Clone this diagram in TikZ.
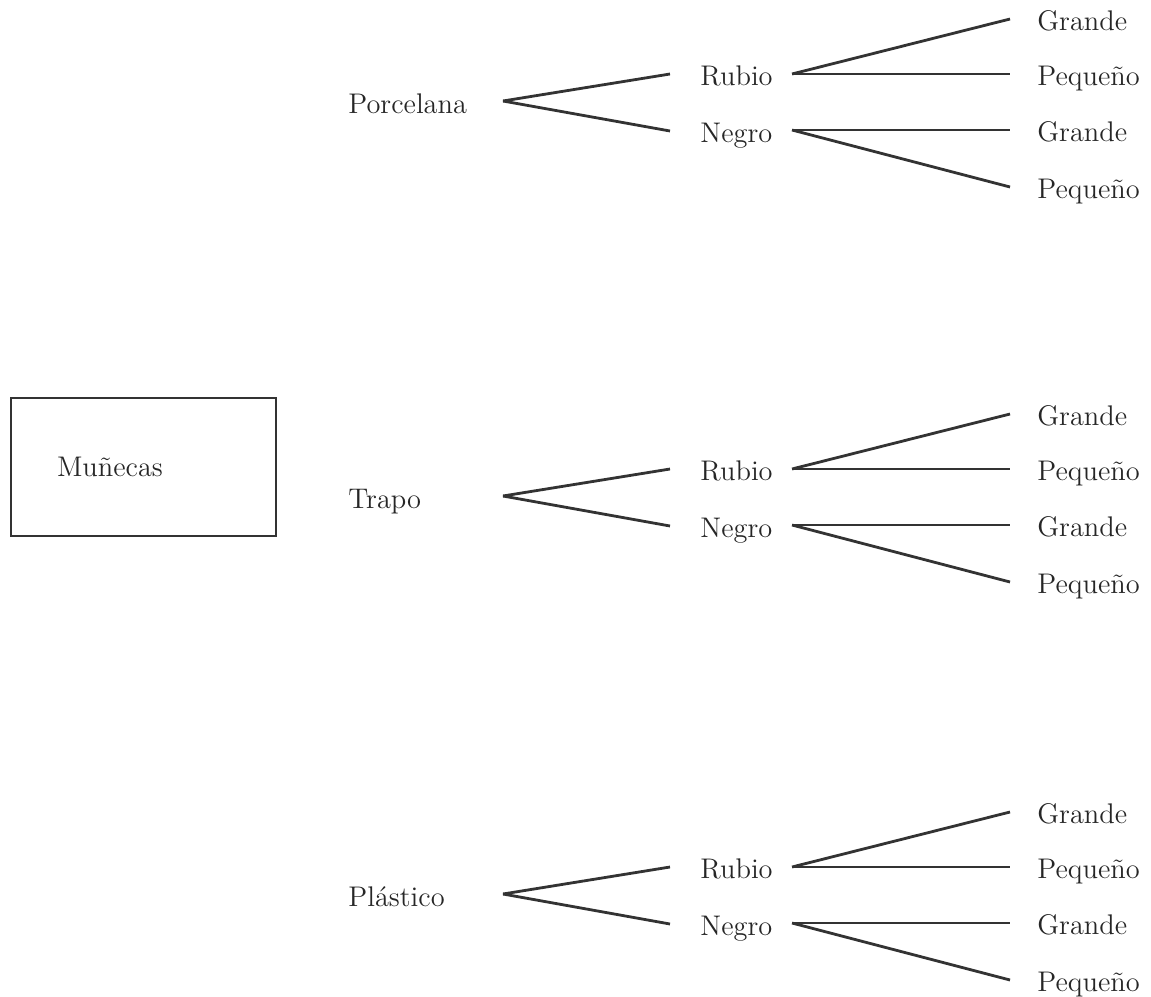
\documentclass[tikz,border=0pt]{standalone}
\usepackage{amssymb}
\usepackage{amsmath}
\usepackage{tikz}

\begin{document}
\begin{tikzpicture}[x=0.5pt, y=-0.5pt,
    txt/.style={anchor=base west, inner sep=0pt, text height=11pt, text depth=0pt,
        font=\fontsize{14.2}{17}\selectfont, text=black!85},
    branch/.style={draw=black!80, line width=1.4pt}]
    \useasboundingbox (0,0) rectangle (1151,996);
    % caja principal
    \node[draw=black!80, line width=1.3pt, minimum width=132.5pt, minimum height=69pt,
        text width=86.5pt, inner xsep=23pt, align=left,
        font=\fontsize{14.2}{17}\selectfont, text=black!85] (box) at (143.5,467) {Muñecas};
    % un arbol por material
    \foreach \mat/\d/\n in {Porcelana/0/p, Trapo/395/t, Plástico/793/l}{
        \node[txt] (\n-mat) at (348,113+\d) {\mat};
        \node[txt] (\n-rub) at (700,85+\d) {Rubio};
        \node[txt] (\n-neg) at (700,142+\d) {Negro};
        \node[txt] (\n-g1) at (1037,30+\d) {Grande};
        \node[txt] (\n-p1) at (1037,85+\d) {Pequeño};
        \node[txt] (\n-g2) at (1037,141+\d) {Grande};
        \node[txt] (\n-p2) at (1037,198+\d) {Pequeño};
        % puntos de ramificacion
        \coordinate (\n-v) at (503,101+\d);
        \coordinate (\n-rv) at (792,74+\d);
        \coordinate (\n-nv) at (792,130+\d);
        \draw[branch] (\n-v) -- ([xshift=-15pt]\n-rub.west);
        \draw[branch] (\n-v) -- ([xshift=-15pt]\n-neg.west);
        \draw[branch] (\n-rv) -- ([xshift=-13.5pt]\n-g1.west);
        \draw[branch] (\n-rv) -- ([xshift=-13.5pt]\n-p1.west);
        \draw[branch] (\n-nv) -- ([xshift=-13.5pt]\n-g2.west);
        \draw[branch] (\n-nv) -- ([xshift=-13.5pt]\n-p2.west);
    }
\end{tikzpicture}
\end{document}
